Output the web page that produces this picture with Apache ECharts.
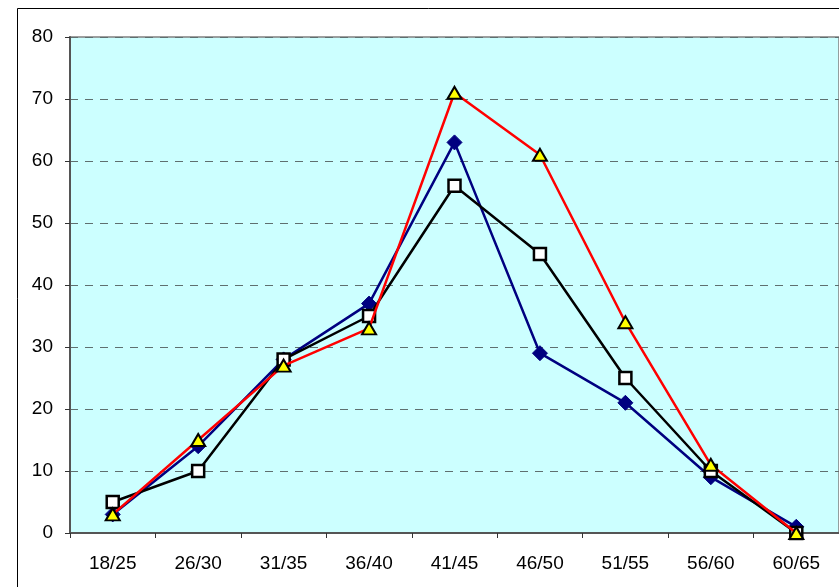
<!DOCTYPE html>
<html><head><meta charset="utf-8">
<script src="https://cdn.jsdelivr.net/npm/echarts@6/dist/echarts.min.js"></script>
<style>html,body{margin:0;padding:0;background:#fff}#c{width:839px;height:587px}</style>
</head><body><div id="c"></div>
<script>
const categories = ['18/25','26/30','31/35','36/40','41/45','46/50','51/55','56/60','60/65'];
const blueSeries = [3, 14, 28, 37, 63, 29, 21, 9, 1];
const blackSeries = [5, 10, 28, 35, 56, 45, 25, 10, 0];
const redSeries = [3, 15, 27, 33, 71, 61, 34, 11, 0];
const yTicks = [0, 10, 20, 30, 40, 50, 60, 70, 80];

const chart = echarts.init(document.getElementById('c'), null, {renderer: 'canvas'});
const font = 'Liberation Sans, Arial, sans-serif';
chart.setOption({
  animation: false,
  backgroundColor: '#fff',
  graphic: [{
    type: 'rect', shape: {x: 17.5, y: 8.5, width: 900, height: 700},
    style: {fill: 'none', stroke: '#000', lineWidth: 1}, z: 100
  }],
  grid: {left: 70, top: 37, right: -1, bottom: 54, show: true,
    backgroundColor: '#CCFFFF', borderColor: '#808080', borderWidth: 1.5},
  xAxis: {
    type: 'category', data: categories, boundaryGap: true,
    axisLine: {lineStyle: {color: '#555', width: 2}},
    axisTick: {show: true, length: 5, lineStyle: {color: '#333', width: 1}},
    axisLabel: {color: '#000', fontSize: 19, fontFamily: font, margin: 21},
    splitLine: {show: false}
  },
  yAxis: {
    type: 'value', min: yTicks[0], max: yTicks[yTicks.length - 1], interval: 10,
    axisLine: {show: true, lineStyle: {color: '#555', width: 2}},
    axisTick: {show: true, length: 5, lineStyle: {color: '#333', width: 1}},
    axisLabel: {color: '#000', fontSize: 19, fontFamily: font, margin: 17},
    splitLine: {show: true, lineStyle: {color: '#5f6f6f', type: [8, 7], width: 1.2}}
  },
  series: [
    {type: 'line', data: blueSeries, symbol: 'diamond', symbolSize: 15,
      lineStyle: {color: '#000080', width: 2.5},
      itemStyle: {color: '#000080', borderColor: '#000080', borderWidth: 1}, z: 2},
    {type: 'line', data: blackSeries, symbol: 'rect', symbolSize: 12,
      lineStyle: {color: '#000', width: 2.5},
      itemStyle: {color: '#fff', borderColor: '#000', borderWidth: 2.5}, z: 3},
    {type: 'line', data: redSeries, symbol: 'triangle', symbolSize: [14, 12],
      lineStyle: {color: '#ff0000', width: 2.5},
      itemStyle: {color: '#ffff00', borderColor: '#000', borderWidth: 2}, z: 4}
  ]
});
</script></body></html>
